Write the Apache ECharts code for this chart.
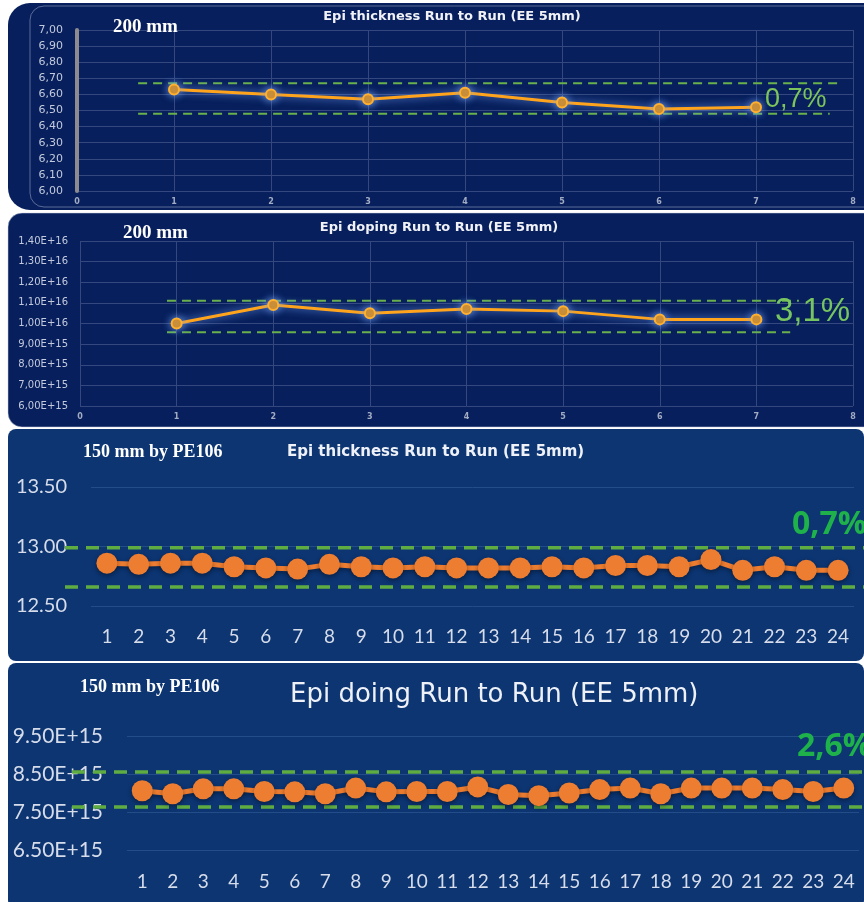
<!DOCTYPE html>
<html>
<head>
<meta charset="utf-8">
<script src="https://cdn.jsdelivr.net/npm/echarts@6/dist/echarts.min.js"></script>
<style>
  html, body { margin: 0; padding: 0; background: #ffffff; }
  #main { width: 864px; height: 902px; }
</style>
</head>
<body>
<div id="main"></div>
<script>
// 200 mm, 7 runs
var runs200 = [1, 2, 3, 4, 5, 6, 7];
var thick200 = [6.63, 6.60, 6.57, 6.61, 6.55, 6.51, 6.52];
var thick200Upper = [[0.63, 6.67], [7.86, 6.67]];
var thick200Lower = [[0.63, 6.48], [7.76, 6.48]];
var doping200 = [1.00e16, 1.09e16, 1.05e16, 1.07e16, 1.06e16, 1.02e16, 1.02e16];
var doping200Upper = [[0.9, 1.11e16], [7.44, 1.11e16]];
var doping200Lower = [[0.9, 9.57e15], [7.35, 9.57e15]];

// 150 mm by PE106, 24 runs
var runs150 = ['1','2','3','4','5','6','7','8','9','10','11','12','13','14','15','16','17','18','19','20','21','22','23','24'];
var thick150 = [12.86, 12.85, 12.86, 12.86, 12.83, 12.82, 12.81, 12.85, 12.83, 12.82, 12.83, 12.82,
                12.82, 12.82, 12.83, 12.82, 12.84, 12.84, 12.83, 12.89, 12.80, 12.83, 12.80, 12.80];
var thick150Limits = [12.99, 12.66];
var doping150 = [8.06e15, 7.98e15, 8.11e15, 8.11e15, 8.04e15, 8.03e15, 7.98e15, 8.13e15, 8.03e15, 8.04e15, 8.04e15, 8.16e15,
                 7.96e15, 7.93e15, 8.00e15, 8.09e15, 8.13e15, 7.98e15, 8.13e15, 8.13e15, 8.13e15, 8.09e15, 8.04e15, 8.13e15];
var doping150Limits = [8.55e15, 7.63e15];

var titles = ['Epi thickness Run to Run (EE 5mm)', 'Epi doping Run to Run (EE 5mm)',
              'Epi thickness Run to Run (EE 5mm)', 'Epi doing Run to Run (EE 5mm)'];
var sizeTags = ['200 mm', '200 mm', '150 mm by PE106', '150 mm by PE106'];
var spreads = ['0,7%', '3,1%', '0,7%', '2,6%'];

var myChart = echarts.init(document.getElementById('main'));

var darkBg = '#071f5c';
var blueBg = '#0c3572';
var sans = '"DejaVu Sans", sans-serif';
var serif = '"Liberation Serif", serif';

function commaFixed(v) { return v.toFixed(2).replace('.', ','); }
function commaExp(v) { return v.toExponential(2).replace('.', ',').toUpperCase(); }
function dotExp(v) { return v.toExponential(2).toUpperCase(); }
function limitPair(v) { return [[0, v], [1, v]]; }

var glowLine = { color: '#ffa41c', width: 3, shadowColor: 'rgba(120,170,255,0.9)', shadowBlur: 8 };
var glowItem = { color: '#e08600', borderColor: '#ffb02e', borderWidth: 2, shadowColor: 'rgba(120,170,255,0.9)', shadowBlur: 8 };
var thinDash = { color: '#6ab04c', width: 2, type: [9, 6] };
var fatDash = { color: '#5fad41', width: 3.5, type: [13, 8] };
var orangeLine = { color: '#ed7d31', width: 5, shadowColor: 'rgba(0,0,0,0.35)', shadowBlur: 4, shadowOffsetY: 2 };
var orangeItem = { color: '#ed7d31', shadowColor: 'rgba(0,0,0,0.4)', shadowBlur: 5, shadowOffsetY: 2 };

function smallX(grid) {
    return {
        type: 'value', gridIndex: grid, min: 0, max: 8, interval: 1,
        axisLine: { show: false }, axisTick: { show: false },
        axisLabel: { color: '#a3acc2', fontSize: 8, fontWeight: 'bold', fontFamily: sans, margin: 7 },
        splitLine: { lineStyle: { color: '#34477f', width: 1 } }
    };
}
function hiddenX(grid) {
    return { type: 'value', gridIndex: grid, min: 0, max: 1, show: false };
}
function hiddenY(grid, mn, mx) {
    return { type: 'value', gridIndex: grid, min: mn, max: mx, show: false };
}
function txt(x, y, text, font, fill, align) {
    return {
        type: 'text', z: 100,
        style: { x: x, y: y, text: text, font: font, fill: fill, textAlign: align || 'left', textVerticalAlign: 'middle' }
    };
}

var option = {
    animation: false,
    backgroundColor: '#ffffff',
    graphic: [
        { type: 'rect', shape: { x: 8, y: 3, width: 870, height: 207, r: [22, 0, 0, 22] }, style: { fill: darkBg }, z: -10 },
        { type: 'rect', shape: { x: 30, y: 6, width: 850, height: 201, r: [14, 0, 0, 14] }, style: { fill: 'none', stroke: 'rgba(190,200,225,0.45)', lineWidth: 1 }, z: -9 },
        { type: 'rect', shape: { x: 8, y: 213, width: 870, height: 214, r: [14, 0, 0, 14] }, style: { fill: darkBg, stroke: 'rgba(200,210,230,0.5)', lineWidth: 1 }, z: -10 },
        { type: 'rect', shape: { x: 8, y: 429, width: 856, height: 232, r: 8 }, style: { fill: blueBg }, z: -10 },
        { type: 'rect', shape: { x: 8, y: 663, width: 856, height: 245, r: 8 }, style: { fill: blueBg }, z: -10 },

        txt(452, 17, titles[0], 'bold 13px ' + sans, '#f0f2f8', 'center'),
        txt(113, 27, sizeTags[0], 'bold 19px ' + serif, '#ffffff'),
        txt(765, 100, spreads[0], '27px "Liberation Sans", sans-serif', '#7dc45b'),

        txt(439, 228, titles[1], 'bold 13px ' + sans, '#f0f2f8', 'center'),
        txt(123, 233, sizeTags[1], 'bold 19px ' + serif, '#ffffff'),
        txt(775, 312, spreads[1], '33px "Liberation Sans", sans-serif', '#77c560'),

        txt(287, 452, titles[2], 'bold 15px ' + sans, '#eef1f8'),
        txt(83, 452, sizeTags[2], 'bold 18px ' + serif, '#ffffff'),
        txt(792, 525, spreads[2], 'bold 32px "Open Sans", sans-serif', '#1fb24b'),

        txt(290, 695, titles[3], '26px ' + sans, '#eef1f8'),
        txt(80, 687, sizeTags[3], 'bold 18px ' + serif, '#ffffff'),
        txt(797, 747, spreads[3], 'bold 32px "Open Sans", sans-serif', '#1fb24b')
    ],
    grid: [
        { left: 77, top: 30, width: 776, height: 161 },
        { left: 80, top: 241, width: 773, height: 165 },
        { left: 91, top: 487, width: 763, height: 119 },
        { left: 65, top: 487, width: 799, height: 119 },
        { left: 127, top: 736, width: 732, height: 114 },
        { left: 72, top: 736, width: 792, height: 114 }
    ],
    xAxis: [
        smallX(0),
        smallX(1),
        {
            type: 'category', gridIndex: 2, data: runs150, boundaryGap: true,
            axisLine: { show: false }, axisTick: { show: false },
            axisLabel: { color: '#d6dcea', fontSize: 19, fontFamily: 'Lato, sans-serif', margin: 21, interval: 0 }
        },
        hiddenX(3),
        {
            type: 'category', gridIndex: 4, data: runs150, boundaryGap: true,
            axisLine: { show: false }, axisTick: { show: false },
            axisLabel: { color: '#d6dcea', fontSize: 19, fontFamily: 'Lato, sans-serif', margin: 22, interval: 0 }
        },
        hiddenX(5)
    ],
    yAxis: [
        {
            type: 'value', gridIndex: 0, min: 6, max: 7, interval: 0.1,
            axisLine: { show: true, lineStyle: { color: '#8c8c8c', width: 4 } }, axisTick: { show: false },
            axisLabel: { color: '#c3cadd', fontSize: 11, fontFamily: sans, margin: 14, formatter: commaFixed },
            splitLine: { lineStyle: { color: '#34477f', width: 1 } }
        },
        {
            type: 'value', gridIndex: 1, min: 6e15, max: 1.4e16, interval: 1e15,
            axisLine: { show: false }, axisTick: { show: false },
            axisLabel: { color: '#c3cadd', fontSize: 10, fontFamily: sans, margin: 12, formatter: commaExp },
            splitLine: { lineStyle: { color: '#34477f', width: 1 } }
        },
        {
            type: 'value', gridIndex: 2, min: 12.5, max: 13.5, interval: 0.5,
            axisLine: { show: false }, axisTick: { show: false },
            axisLabel: { color: '#d6dcea', fontSize: 20, fontFamily: 'Lato, sans-serif', margin: 24, formatter: function (v) { return v.toFixed(2); } },
            splitLine: { lineStyle: { color: '#234d89', width: 1 } }
        },
        hiddenY(3, 12.5, 13.5),
        {
            type: 'value', gridIndex: 4, min: 6.5e15, max: 9.5e15, interval: 1e15,
            axisLine: { show: false }, axisTick: { show: false },
            axisLabel: { color: '#d6dcea', fontSize: 21, fontFamily: 'Lato, sans-serif', margin: 24, formatter: dotExp },
            splitLine: { lineStyle: { color: '#234d89', width: 1 } }
        },
        hiddenY(5, 6.5e15, 9.5e15)
    ],
    series: [
        // 200 mm thickness
        { type: 'line', xAxisIndex: 0, yAxisIndex: 0, data: thick200Upper, symbol: 'none', lineStyle: thinDash, z: 2 },
        { type: 'line', xAxisIndex: 0, yAxisIndex: 0, data: thick200Lower, symbol: 'none', lineStyle: thinDash, z: 2 },
        {
            type: 'line', xAxisIndex: 0, yAxisIndex: 0,
            data: runs200.map(function (r, i) { return [r, thick200[i]]; }),
            symbol: 'circle', symbolSize: 10, lineStyle: glowLine, itemStyle: glowItem, z: 3
        },
        // 200 mm doping
        { type: 'line', xAxisIndex: 1, yAxisIndex: 1, data: doping200Upper, symbol: 'none', lineStyle: thinDash, z: 2 },
        { type: 'line', xAxisIndex: 1, yAxisIndex: 1, data: doping200Lower, symbol: 'none', lineStyle: thinDash, z: 2 },
        {
            type: 'line', xAxisIndex: 1, yAxisIndex: 1,
            data: runs200.map(function (r, i) { return [r, doping200[i]]; }),
            symbol: 'circle', symbolSize: 10, lineStyle: glowLine, itemStyle: glowItem, z: 3
        },
        // 150 mm thickness
        { type: 'line', xAxisIndex: 3, yAxisIndex: 3, data: limitPair(thick150Limits[0]), symbol: 'none', lineStyle: fatDash, z: 2 },
        { type: 'line', xAxisIndex: 3, yAxisIndex: 3, data: limitPair(thick150Limits[1]), symbol: 'none', lineStyle: fatDash, z: 2 },
        {
            type: 'line', xAxisIndex: 2, yAxisIndex: 2, data: thick150,
            symbol: 'circle', symbolSize: 21, lineStyle: orangeLine, itemStyle: orangeItem, z: 3
        },
        // 150 mm doping
        { type: 'line', xAxisIndex: 5, yAxisIndex: 5, data: limitPair(doping150Limits[0]), symbol: 'none', lineStyle: fatDash, z: 2 },
        { type: 'line', xAxisIndex: 5, yAxisIndex: 5, data: limitPair(doping150Limits[1]), symbol: 'none', lineStyle: fatDash, z: 2 },
        {
            type: 'line', xAxisIndex: 4, yAxisIndex: 4, data: doping150,
            symbol: 'circle', symbolSize: 21, lineStyle: orangeLine, itemStyle: orangeItem, z: 3
        }
    ]
};

myChart.setOption(option);
window.onresize = function () {
    myChart.resize();
};
</script>
</body>
</html>
